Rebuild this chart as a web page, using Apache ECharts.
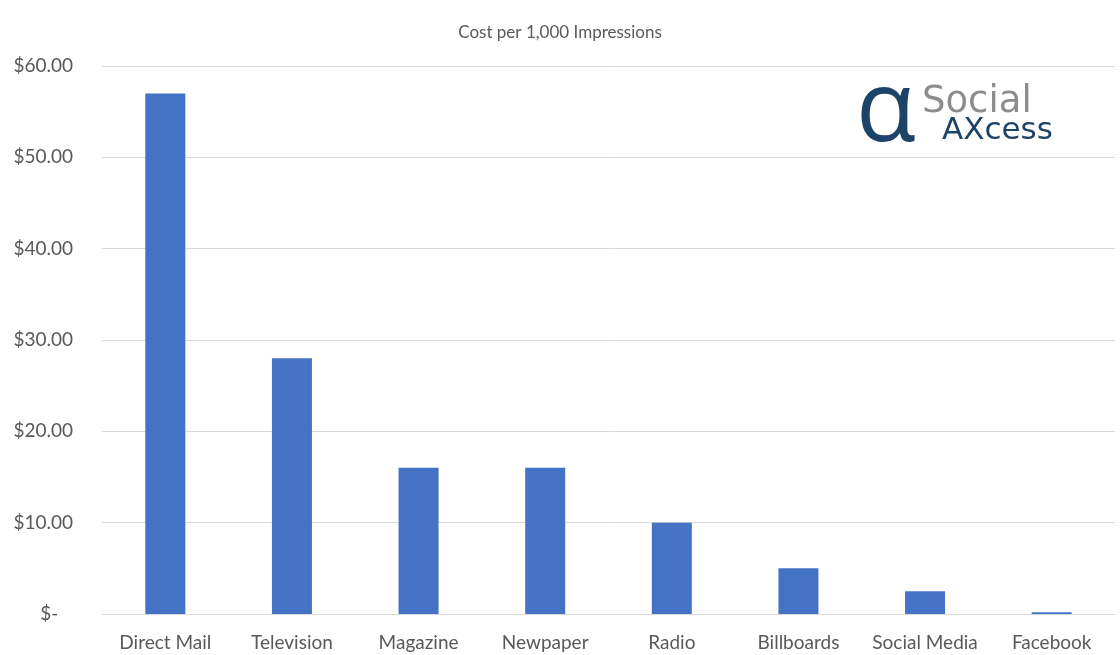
<!DOCTYPE html>
<html>
<head>
<meta charset="utf-8">
<script src="https://cdn.jsdelivr.net/npm/echarts@6/dist/echarts.min.js"></script>
<style>
  html, body { margin: 0; padding: 0; background: #fff; }
  #main { width: 1120px; height: 655px; }
</style>
</head>
<body>
<div id="main"></div>
<script>
// data
const categories = ['Direct Mail', 'Television', 'Magazine', 'Newpaper', 'Radio', 'Billboards', 'Social Media', 'Facebook'];
const costs = [57, 28, 16, 16, 10, 5, 2.5, 0.2];
const yTicks = [0, 10, 20, 30, 40, 50, 60];

const chart = echarts.init(document.getElementById('main'));
const font = 'Lato, "Open Sans", sans-serif';

const option = {
    animation: false,
    textStyle: { fontFamily: font },
    title: {
        text: 'Cost per 1,000 Impressions',
        left: 'center',
        top: 19,
        textStyle: { fontSize: 17, fontWeight: 'normal', color: '#595959', fontFamily: font }
    },
    grid: { left: 102, right: 5, top: 66, bottom: 41, containLabel: false },
    xAxis: {
        type: 'category',
        data: categories,
        axisLine: { lineStyle: { color: '#d9d9d9', width: 1 } },
        axisTick: { show: false },
        axisLabel: { interval: 0, color: '#595959', fontSize: 19, margin: 19, fontFamily: font }
    },
    yAxis: {
        type: 'value',
        min: yTicks[0],
        max: yTicks[yTicks.length - 1],
        interval: 10,
        axisLine: { show: false },
        axisTick: { show: false },
        splitLine: { lineStyle: { color: '#d9d9d9', width: 1 } },
        axisLabel: {
            color: '#595959',
            fontSize: 19,
            margin: 29,
            fontFamily: font,
            formatter: v => v === 0 ? '$-   ' : '$' + v.toFixed(2)
        }
    },
    series: [{
        type: 'bar',
        data: costs,
        barWidth: 40,
        itemStyle: { color: '#4472c4' }
    }],
    graphic: [
        {
            type: 'text', left: 856, top: 64,
            style: { text: 'α', fontSize: 98, fill: '#1d4468', fontFamily: '"Open Sans", sans-serif' }
        },
        {
            type: 'text', left: 922, top: 84,
            style: { text: 'Social', fontSize: 37, fill: '#8c8c8c', fontFamily: '"DejaVu Sans", sans-serif' }
        },
        {
            type: 'text', left: 942, top: 115,
            style: { text: 'AXcess', fontSize: 31, fill: '#1d4468', fontFamily: '"DejaVu Sans", sans-serif' }
        }
    ]
};

chart.setOption(option);
</script>
</body>
</html>
